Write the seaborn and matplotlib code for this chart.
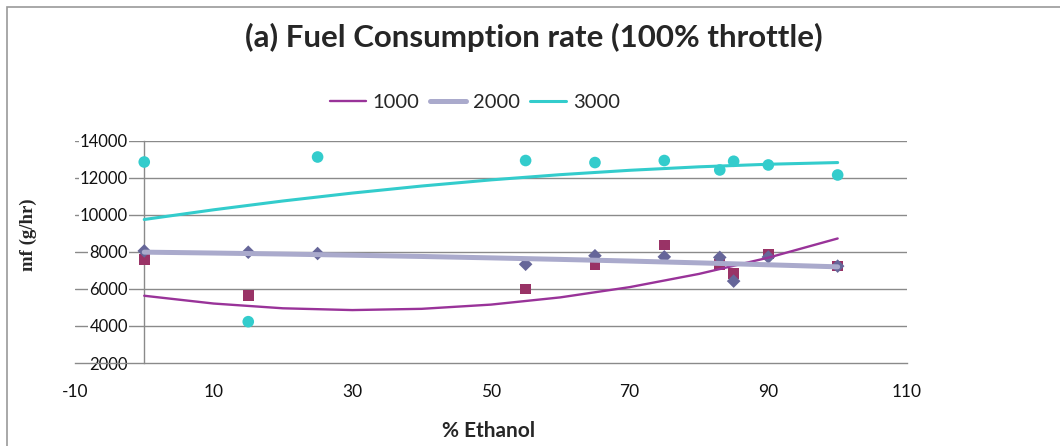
import numpy as np
import pandas as pd
import matplotlib
matplotlib.use("Agg")
import matplotlib.pyplot as plt
from matplotlib.patches import Rectangle
from matplotlib.lines import Line2D
import seaborn as sns

# Measured fuel consumption (g/hr) against ethanol content (%) at 100% throttle
ethanol = [0, 15, 25, 55, 65, 75, 83, 85, 90, 100]
ethanol_1000 = [0, 15, 55, 65, 75, 83, 85, 90, 100]
mf_1000 = [7600, 5650, 5990, 7300, 8360, 7310, 6840, 7880, 7240]
mf_2000 = [8050, 7980, 7910, 7330, 7790, 7730, 7700, 6420, 7720, 7230]
mf_3000 = [12850, 4230, 13120, 12930, 12820, 12930, 12420, 12890, 12690, 12150]

# Second-order trendlines for each engine speed (rpm)
trend_x = [0, 10, 20, 30, 40, 50, 60, 70, 80, 90, 100]
trend_1000 = [5630, 5210, 4953, 4857, 4924, 5152, 5542, 6095, 6809, 7686, 8722]
trend_2000 = [7984, 7936, 7882, 7819, 7751, 7675, 7593, 7503, 7405, 7302, 7191]
trend_3000 = [9747, 10270, 10746, 11173, 11553, 11884, 12167, 12402, 12590, 12729, 12820]

speed_labels = ["1000", "2000", "3000"]
x_ticks = [-10, 10, 30, 50, 70, 90, 110]
y_ticks = [2000, 4000, 6000, 8000, 10000, 12000, 14000]

sns.set_style("white")
plt.rcParams["font.family"] = ["Lato", "DejaVu Sans"]
plt.rcParams["axes.unicode_minus"] = False

W, H = 1060, 446
fig = plt.figure(figsize=(W / 100, H / 100), dpi=100)
ax = fig.add_axes([74.9 / W, 1 - 363 / H, (907 - 74.9) / W, (363 - 140.7) / H])

pts_1000 = pd.DataFrame({"x": ethanol_1000, "y": mf_1000})
pts_2000 = pd.DataFrame({"x": ethanol, "y": mf_2000})
pts_3000 = pd.DataFrame({"x": ethanol, "y": mf_3000})
trends = pd.DataFrame({"x": trend_x, "t1000": trend_1000,
                       "t2000": trend_2000, "t3000": trend_3000})

grid_c = "#8a8a8a"
for v in y_ticks[1:]:
    ax.axhline(v, color=grid_c, lw=1.0, zorder=0.5)

sns.scatterplot(data=pts_1000, x="x", y="y", ax=ax, marker="s", s=58,
                color="#993366", edgecolor="none", zorder=3)
sns.scatterplot(data=pts_2000, x="x", y="y", ax=ax, marker="D", s=48,
                color="#666699", edgecolor="none", zorder=4)
sns.scatterplot(data=pts_3000, x="x", y="y", ax=ax, marker="o", s=70,
                color="#33CCCC", edgecolor="none", zorder=5)

line_styles = [("t1000", "#993399", 1.7), ("t2000", "#AAAACC", 3.6),
               ("t3000", "#33CCCC", 2.2)]
for col, c, lw in line_styles:
    sns.lineplot(data=trends, x="x", y=col, ax=ax, color=c, lw=lw, zorder=6)

ax.set_xlim(-10, 110)
ax.set_ylim(2000, 14000)
ax.set_xticks(x_ticks)
ax.set_yticks(y_ticks)
ax.set_xticklabels([str(t) for t in x_ticks])
ax.set_yticklabels([str(t) for t in y_ticks])

for s in ["top", "right"]:
    ax.spines[s].set_visible(False)
ax.spines["left"].set_position(("data", 0))
for s in ["left", "bottom"]:
    ax.spines[s].set_color(grid_c)
    ax.spines[s].set_linewidth(1.0)

ax.tick_params(axis="y", direction="out", length=3.2, width=1, color=grid_c,
               pad=8.5, labelsize=12, labelcolor="#111111")
ax.tick_params(axis="x", direction="out", length=4, width=1, color=grid_c,
               pad=11, labelsize=12.5, labelcolor="#111111")
for lbl in ax.get_yticklabels():
    lbl.set_bbox(dict(facecolor="white", edgecolor="none", pad=1.0))
    lbl.set_zorder(2)

ax.set_xlabel("% Ethanol", fontsize=15, fontweight="bold")
ax.xaxis.label.set_verticalalignment("center")
ax.xaxis.set_label_coords((489 - 74.9) / 832.1, -(431 - 363) / 222.3)

ax.set_ylabel("mf (g/hr)", fontsize=13.5, fontweight="bold",
              family=["Liberation Serif", "DejaVu Serif"])
ax.yaxis.label.set_verticalalignment("center")
ax.yaxis.set_label_coords((28 - 74.9) / 832.1, (363 - 235) / 222.3)

fig.text(534 / W, 1 - 37 / H, "(a) Fuel Consumption rate (100% throttle)",
         ha="center", va="center", fontsize=22.5, fontweight="bold")

handles = [Line2D([], [], color=c, lw=lw) for _, c, lw in line_styles]
fig.legend(handles, speed_labels, loc="center", bbox_to_anchor=(475 / W, 1 - 102 / H),
           ncol=3, frameon=False, fontsize=14.5, handlelength=1.8,
           handletextpad=0.35, columnspacing=0.5)

fig.add_artist(Rectangle((7 / W, -0.05), 1.2, 1.05 - 7 / H, transform=fig.transFigure,
                         fill=False, edgecolor="#9a9a9a", lw=1.2))

fig.savefig("out.png", dpi=100)
